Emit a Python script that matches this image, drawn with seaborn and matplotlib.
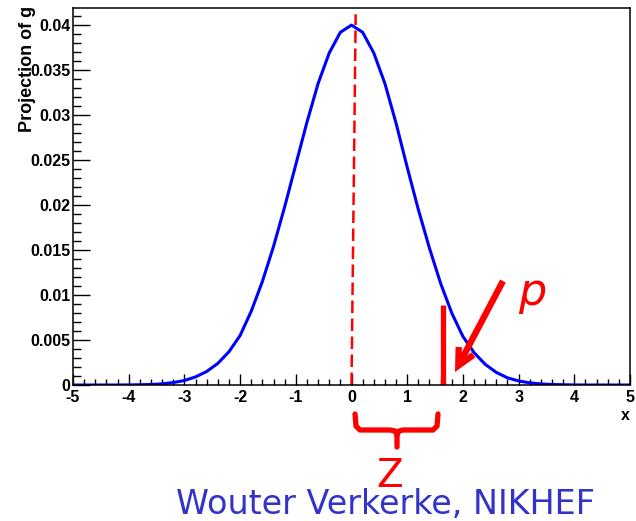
import numpy as np
import pandas as pd
import matplotlib
matplotlib.use("Agg")
import matplotlib.pyplot as plt
from matplotlib.ticker import MultipleLocator, FixedLocator
import seaborn as sns

# ---- data ----
x_vals = [-5.0, -4.8, -4.6, -4.4, -4.2, -4.0, -3.8, -3.6, -3.4, -3.2, -3.0,
          -2.8, -2.6, -2.4, -2.2, -2.0, -1.8, -1.6, -1.4, -1.2, -1.0,
          -0.8, -0.6, -0.4, -0.2, 0.0, 0.2, 0.4, 0.6, 0.8, 1.0,
          1.2, 1.4, 1.6, 1.8, 2.0, 2.2, 2.4, 2.6, 2.8, 3.0,
          3.2, 3.4, 3.6, 3.8, 4.0, 4.2, 4.4, 4.6, 4.8, 5.0]
y_vals = [0.0, 0.0, 0.0, 0.0, 0.0, 0.00001, 0.00003, 0.00006, 0.00013, 0.00027, 0.0005,
          0.0009, 0.0015, 0.0024, 0.0037, 0.0055, 0.0082, 0.0115, 0.0154, 0.0198, 0.0245,
          0.0292, 0.0335, 0.0369, 0.0392, 0.0400, 0.0392, 0.0369, 0.0335, 0.0291, 0.0242,
          0.0195, 0.0152, 0.0113, 0.0080, 0.0054, 0.0036, 0.0023, 0.0014, 0.0008, 0.00045,
          0.00024, 0.00012, 0.00006, 0.00003, 0.00001, 0.0, 0.0, 0.0, 0.0, 0.0]
mean_x = [0.0, 0.075]
mean_y = [0.0, 0.0412]
cut_x = [1.645, 1.645]
cut_y = [0.0, 0.0089]
x_ticks = [-5, -4, -3, -2, -1, 0, 1, 2, 3, 4, 5]
x_tick_labels = ["-5", "-4", "-3", "-2", "-1", "0", "1", "2", "3", "4", "5"]
y_ticks = [0, 0.005, 0.01, 0.015, 0.02, 0.025, 0.03, 0.035, 0.04]
y_tick_labels = ["0", "0.005", "0.01", "0.015", "0.02", "0.025", "0.03", "0.035", "0.04"]

df = pd.DataFrame({"x": x_vals, "y": y_vals})

sns.set_theme(style="white")
plt.rcParams['font.family'] = ['Liberation Sans', 'DejaVu Sans']

W, H = 636, 521
fig = plt.figure(figsize=(W / 100, H / 100), dpi=100)
ax = fig.add_axes([73 / W, 1 - 385 / H, (630 - 73) / W, (385 - 8) / H])

sns.lineplot(data=df, x="x", y="y", ax=ax, color="#0000ff", linewidth=2.2)
ax.plot(mean_x, mean_y, color="#ff0000", linewidth=1.8, linestyle=(0, (5, 2.2)))
ax.plot(cut_x, cut_y, color="#ff0000", linewidth=3.8, solid_capstyle="butt")

ax.set_xlim(-5, 5)
ax.set_ylim(0, 0.0419)
ax.set_xlabel("")
ax.set_ylabel("")
ax.xaxis.set_major_locator(FixedLocator(x_ticks))
ax.set_xticklabels(x_tick_labels)
ax.yaxis.set_major_locator(FixedLocator(y_ticks))
ax.set_yticklabels(y_tick_labels)
ax.xaxis.set_minor_locator(MultipleLocator(0.2))
ax.yaxis.set_minor_locator(MultipleLocator(0.001))

for s in ax.spines.values():
    s.set_color("black")
    s.set_linewidth(1.1)

ax.tick_params(axis="x", which="major", direction="in", length=7.9, width=1.0,
               color="black", pad=3.5, labelsize=11.5, bottom=True)
ax.tick_params(axis="x", which="minor", direction="in", length=4.3, width=1.0,
               color="black", bottom=True)
ax.tick_params(axis="y", which="major", direction="in", length=12.2, width=1.0,
               color="black", pad=2, labelsize=11.5, left=True)
ax.tick_params(axis="y", which="minor", direction="in", length=5.8, width=1.0,
               color="black", left=True)
for lab in ax.get_xticklabels() + ax.get_yticklabels():
    lab.set_fontweight("bold")
    lab.set_color("black")

# axis titles
fig.text(28 / W, 1 - 6 / H, "Projection of g", rotation=90, ha="center", va="top",
         fontsize=13, fontweight="bold", color="black")
fig.text(625 / W, 1 - 416 / H, "x", ha="center", va="center",
         fontsize=11.5, fontweight="bold", color="black")

def px(x, y):
    return x / W, 1 - y / H

# arrow pointing to the tail
ax.annotate("", xy=px(455, 372), xytext=px(503, 281),
            xycoords="figure fraction", textcoords="figure fraction",
            arrowprops=dict(arrowstyle="->,head_length=1.0,head_width=0.5",
                            color="#ff0000", lw=4.6, shrinkA=0, shrinkB=0,
                            joinstyle="miter", capstyle="butt"),
            annotation_clip=False)
fig.text(532 / W, 1 - 292 / H, "p", ha="center", va="center", fontsize=32,
         fontstyle="italic", color="#ff0000", family=["DejaVu Sans"])

# brace under the axis
left_part = [(355, 414), (356, 426), (360, 430), (390, 430), (395, 431), (397, 435), (397, 447)]
right_part = [(438, 414), (437, 426), (433, 430), (403, 430), (399, 431), (397, 435)]
for part in (left_part, right_part):
    xs = [p[0] / W for p in part]
    ys = [1 - p[1] / H for p in part]
    fig.add_artist(plt.Line2D(xs, ys, transform=fig.transFigure, color="#ff0000",
                              linewidth=3.8, solid_capstyle="round", solid_joinstyle="round"))
fig.text(390 / W, 1 - 487 / H, "Z", ha="center", va="baseline", fontsize=28,
         color="#ff0000", family=["DejaVu Sans"])

fig.text(385 / W, 1 - 514 / H, "Wouter Verkerke, NIKHEF", ha="center", va="baseline",
         fontsize=24, color="#3333cc", family=["DejaVu Sans"])

fig.savefig("out.png", dpi=100, facecolor="white")
